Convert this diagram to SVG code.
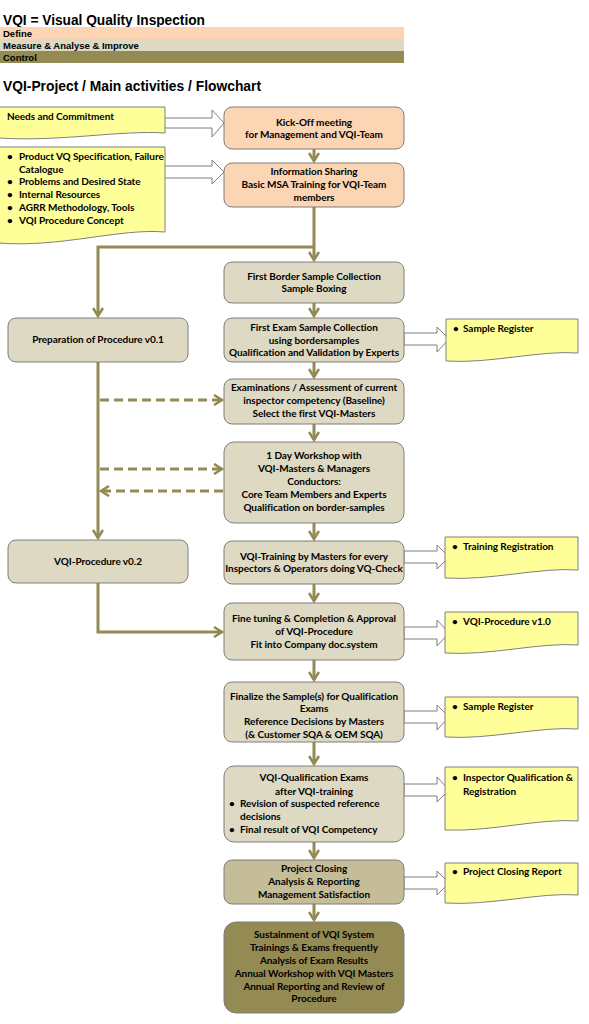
<svg xmlns="http://www.w3.org/2000/svg" width="589" height="1024" viewBox="0 0 589 1024">
<defs>
<style>
.h{font-family:"Liberation Sans",Arial,sans-serif;font-weight:bold;fill:#000}
.t{font-family:Lato,"Liberation Sans",sans-serif;font-weight:bold;font-size:10px;letter-spacing:-0.05px;fill:#000}
.m{text-anchor:middle}
.box{stroke:#7f7f7f;stroke-width:1}
.d{fill:#FCD5B4}
.g{fill:#DDD9C3}
.c1{fill:#C4BD97}
.c2{fill:#948A54}
.note{fill:#FFFF99;stroke:#7f7f7f;stroke-width:1}
.blk{fill:#fff;stroke:#7f7f7f;stroke-width:1}
.con{fill:none;stroke:#948A54;stroke-width:3}
.dash{stroke-dasharray:9,5}
</style>
<marker id="ah" viewBox="0 0 12 12" refX="10" refY="6" markerWidth="12" markerHeight="12" markerUnits="userSpaceOnUse" orient="auto">
<path d="M2,1 L10,6 L2,11" fill="none" stroke="#948A54" stroke-width="2.6"/>
</marker>
</defs>
<rect width="589" height="1024" fill="#fff"/>

<g id="header">
<text class="h" x="3" y="25" font-size="14" textLength="202" lengthAdjust="spacingAndGlyphs">VQI = Visual Quality Inspection</text>
<rect x="0" y="27" width="404" height="12" fill="#FCD5B4"/>
<rect x="0" y="39" width="404" height="12" fill="#DDD9C3"/>
<rect x="0" y="51" width="404" height="12" fill="#948A54"/>
<text class="h" x="3" y="37" font-size="9.5">Define</text>
<text class="h" x="3" y="49" font-size="9.5">Measure &amp; Analyse &amp; Improve</text>
<text class="h" x="3" y="61" font-size="9.5">Control</text>
<text class="h" x="3" y="91" font-size="14" textLength="258" lengthAdjust="spacingAndGlyphs">VQI-Project / Main activities / Flowchart</text>
</g>

<g id="connectors">
<path class="con" d="M314,149 V161" marker-end="url(#ah)"/>
<path class="con" d="M314,207 V260" marker-end="url(#ah)"/>
<path class="con" d="M314,247 H98 V316" marker-end="url(#ah)"/>
<path class="con" d="M314,303 V316" marker-end="url(#ah)"/>
<path class="con" d="M314,362 V377" marker-end="url(#ah)"/>
<path class="con" d="M314,424 V440" marker-end="url(#ah)"/>
<path class="con" d="M314,523 V539" marker-end="url(#ah)"/>
<path class="con" d="M314,584 V601" marker-end="url(#ah)"/>
<path class="con" d="M314,660 V680" marker-end="url(#ah)"/>
<path class="con" d="M314,742 V764" marker-end="url(#ah)"/>
<path class="con" d="M314,842 V858" marker-end="url(#ah)"/>
<path class="con" d="M314,904 V920" marker-end="url(#ah)"/>
<path class="con" d="M98,362 V538" marker-end="url(#ah)"/>
<path class="con" d="M98,583 V632 H222" marker-end="url(#ah)"/>
<path class="con dash" d="M100,400 H222" marker-end="url(#ah)"/>
<path class="con dash" d="M100,469 H222" marker-end="url(#ah)"/>
<path class="con dash" d="M223,491 H101" marker-end="url(#ah)"/>
<polygon class="blk" points="163,118 212,118 212,110 224,123 212,137 212,128 163,128"/>
<polygon class="blk" points="163,166 212,166 212,160 224,172 212,184 212,178 163,178"/>
<polygon class="blk" points="404,333 437,333 437,327 449,339 437,352 437,345 404,345"/>
<polygon class="blk" points="404,551 437,551 437,545 449,557 437,569 437,563 404,563"/>
<polygon class="blk" points="404,627 437,627 437,620 449,633 437,646 437,639 404,639"/>
<polygon class="blk" points="404,711 437,711 437,705 449,717 437,730 437,723 404,723"/>
<polygon class="blk" points="404,784 437,784 437,777 449,790 437,802 437,796 404,796"/>
<polygon class="blk" points="404,877 437,877 437,871 449,883 437,895 437,889 404,889"/>
</g>

<g id="n-needs">
<path class="note" d="M-1,107 H165 V133 C120,130 60,142 -1,138 Z"/>
<text class="t" x="7" y="120">Needs and Commitment</text>
</g>
<g id="n-inputs">
<path class="note" d="M-1,147 H165 V232 C120,228 60,248 -1,243 Z"/>
<text class="t" x="7" y="160">•</text><text class="t" x="19" y="160">Product VQ Specification, Failure</text>
<text class="t" x="19" y="173">Catalogue</text>
<text class="t" x="7" y="185">•</text><text class="t" x="19" y="185">Problems and Desired State</text>
<text class="t" x="7" y="198">•</text><text class="t" x="19" y="198">Internal Resources</text>
<text class="t" x="7" y="211">•</text><text class="t" x="19" y="211">AGRR Methodology, Tools</text>
<text class="t" x="7" y="224">•</text><text class="t" x="19" y="224">VQI Procedure Concept</text>
</g>

<g id="kickoff">
<rect class="box d" x="224" y="107" width="180" height="42" rx="8"/>
<text class="t m" x="314" y="126">Kick-Off meeting</text>
<text class="t m" x="314" y="138">for Management and VQI-Team</text>
</g>
<g id="infosharing">
<rect class="box d" x="224" y="163" width="180" height="44" rx="8"/>
<text class="t m" x="314" y="175">Information Sharing</text>
<text class="t m" x="314" y="188">Basic MSA Training for VQI-Team</text>
<text class="t m" x="314" y="201">members</text>
</g>
<g id="border">
<rect class="box g" x="224" y="262" width="180" height="41" rx="8"/>
<text class="t m" x="314" y="280">First Border Sample Collection</text>
<text class="t m" x="314" y="292">Sample Boxing</text>
</g>
<g id="exam-sample">
<rect class="box g" x="224" y="318" width="180" height="44" rx="8"/>
<text class="t m" x="314" y="331">First Exam Sample Collection</text>
<text class="t m" x="314" y="344">using bordersamples</text>
<text class="t m" x="314" y="356">Qualification and Validation by Experts</text>
</g>
<g id="prep">
<rect class="box g" x="8" y="318" width="180" height="44" rx="8"/>
<text class="t m" x="98" y="343">Preparation of Procedure v0.1</text>
</g>
<g id="assessment">
<rect class="box g" x="224" y="379" width="180" height="45" rx="8"/>
<text class="t m" x="314" y="391">Examinations / Assessment of  current</text>
<text class="t m" x="314" y="404">inspector competency  (Baseline)</text>
<text class="t m" x="314" y="417">Select  the first VQI-Masters</text>
</g>
<g id="workshop">
<rect class="box g" x="224" y="442" width="180" height="81" rx="10"/>
<text class="t m" x="314" y="459">1 Day Workshop with</text>
<text class="t m" x="314" y="472">VQI-Masters &amp; Managers</text>
<text class="t m" x="314" y="485">Conductors:</text>
<text class="t m" x="314" y="498">Core Team Members and Experts</text>
<text class="t m" x="314" y="511">Qualification on border-samples</text>
</g>
<g id="proc02">
<rect class="box g" x="8" y="540" width="180" height="43" rx="8"/>
<text class="t m" x="98" y="565">VQI-Procedure v0.2</text>
</g>
<g id="training">
<rect class="box g" x="224" y="541" width="180" height="43" rx="8"/>
<text class="t m" x="314" y="560">VQI-Training by Masters for every</text>
<text class="t m" x="314" y="572">Inspectors &amp; Operators doing VQ-Check</text>
</g>
<g id="finetuning">
<rect class="box g" x="224" y="603" width="180" height="57" rx="8"/>
<text class="t m" x="314" y="622">Fine tuning &amp; Completion &amp; Approval</text>
<text class="t m" x="314" y="635">of VQI-Procedure</text>
<text class="t m" x="314" y="648">Fit into Company doc.system</text>
</g>
<g id="finalize">
<rect class="box g" x="224" y="682" width="180" height="60" rx="8"/>
<text class="t m" x="314" y="700">Finalize the Sample(s) for Qualification</text>
<text class="t m" x="314" y="712">Exams</text>
<text class="t m" x="314" y="725">Reference Decisions by Masters</text>
<text class="t m" x="314" y="738">(&amp; Customer SQA &amp; OEM SQA)</text>
</g>
<g id="qualexams">
<rect class="box g" x="224" y="766" width="180" height="76" rx="10"/>
<text class="t m" x="314" y="781">VQI-Qualification Exams</text>
<text class="t m" x="314" y="795">after VQI-training</text>
<text class="t" x="229" y="807">•</text><text class="t" x="240" y="807">Revision of suspected reference</text>
<text class="t" x="240" y="820">decisions</text>
<text class="t" x="229" y="833">•</text><text class="t" x="240" y="833">Final result of VQI Competency</text>
</g>
<g id="closing">
<rect class="box c1" x="224" y="860" width="180" height="44" rx="8"/>
<text class="t m" x="314" y="872">Project Closing</text>
<text class="t m" x="314" y="885">Analysis &amp; Reporting</text>
<text class="t m" x="314" y="898">Management Satisfaction</text>
</g>
<g id="sustainment">
<rect class="box c2" x="224" y="922" width="180" height="91" rx="12"/>
<text class="t m" x="314" y="938">Sustainment of VQI System</text>
<text class="t m" x="314" y="951">Trainings &amp; Exams  frequently</text>
<text class="t m" x="314" y="964">Analysis of Exam Results</text>
<text class="t m" x="314" y="977">Annual Workshop with VQI Masters</text>
<text class="t m" x="314" y="990">Annual Reporting and Review of</text>
<text class="t m" x="314" y="1002">Procedure</text>
</g>

<g id="o-sample1">
<path class="note" d="M446,319 H578 V353 C540,350 490,364 446,361 Z"/>
<text class="t" x="453" y="332">•</text><text class="t" x="463" y="332">Sample Register</text>
</g>
<g id="o-training">
<path class="note" d="M445,537 H578 V570 C540,567 490,581 445,578 Z"/>
<text class="t" x="452" y="550">•</text><text class="t" x="463" y="550">Training Registration</text>
</g>
<g id="o-proc10">
<path class="note" d="M445,612 H578 V645 C540,642 490,656 445,653 Z"/>
<text class="t" x="452" y="625">•</text><text class="t" x="463" y="625">VQI-Procedure v1.0</text>
</g>
<g id="o-sample2">
<path class="note" d="M445,697 H578 V729 C540,726 490,740 445,737 Z"/>
<text class="t" x="452" y="710">•</text><text class="t" x="463" y="710">Sample Register</text>
</g>
<g id="o-inspector">
<path class="note" d="M445,767 H578 V821 C540,818 490,832 445,830 Z"/>
<text class="t" x="452" y="781">•</text><text class="t" x="463" y="781">Inspector Qualification &amp;</text>
<text class="t" x="463" y="795">Registration</text>
</g>
<g id="o-closing">
<path class="note" d="M445,863 H578 V895 C540,892 490,906 445,903 Z"/>
<text class="t" x="452" y="875">•</text><text class="t" x="463" y="875">Project Closing Report</text>
</g>
</svg>
